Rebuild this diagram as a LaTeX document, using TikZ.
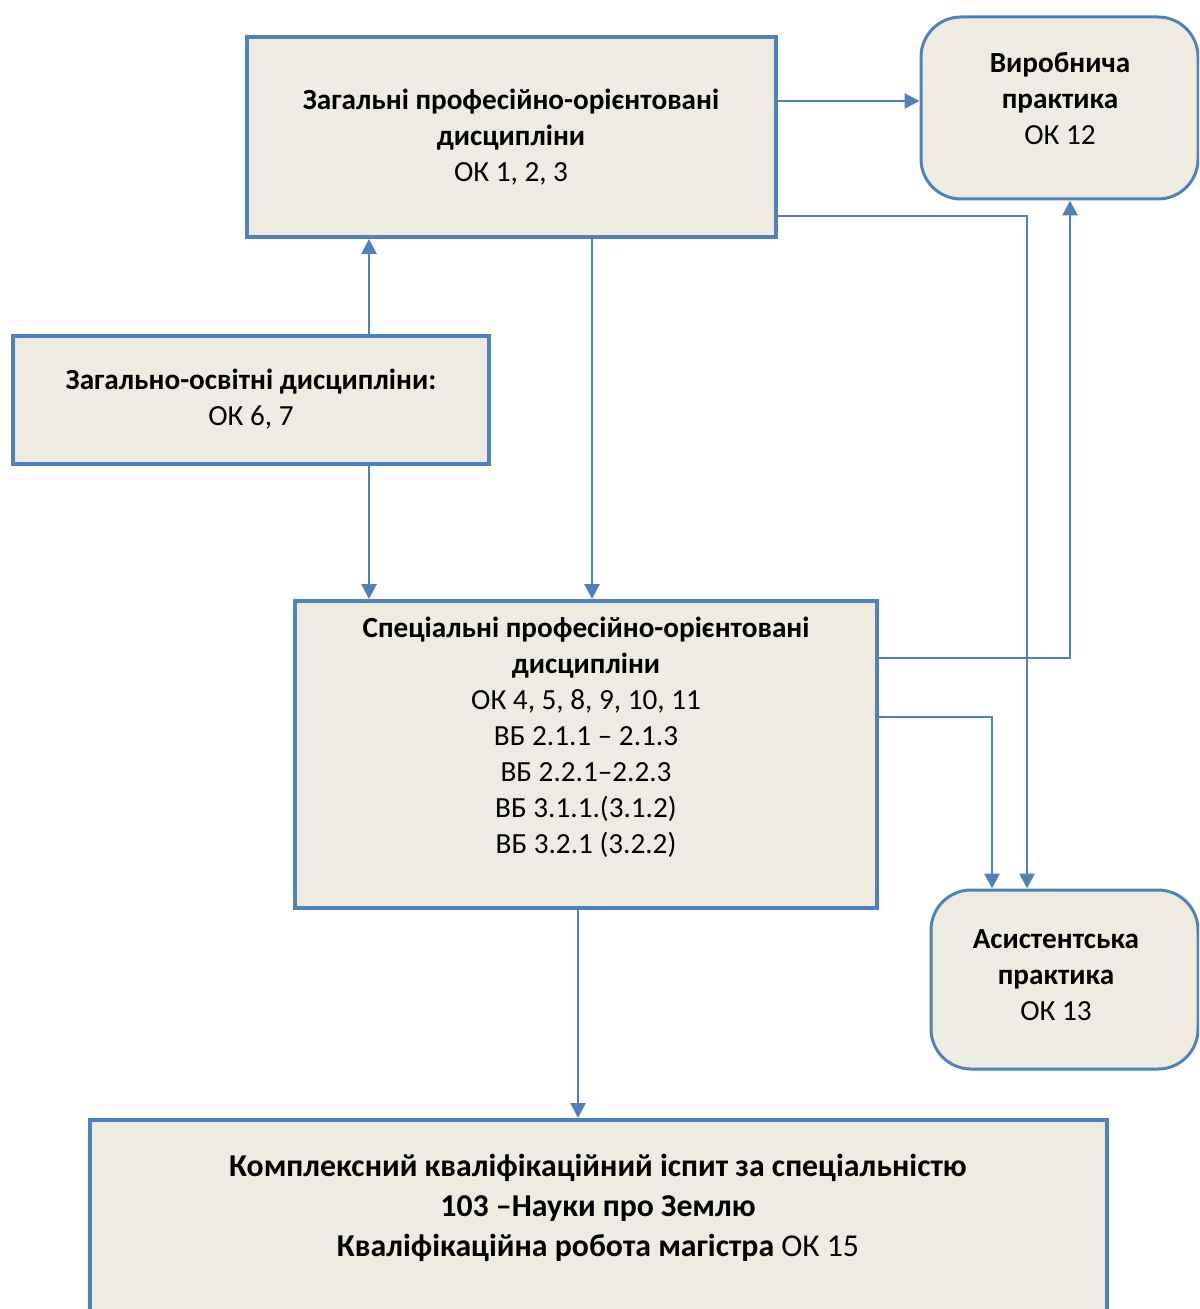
\documentclass[tikz,border=0pt]{standalone}
\usepackage{fontspec}
\setmainfont{Carlito}
\usetikzlibrary{arrows.meta}
\definecolor{bl}{HTML}{4F81BD}
\definecolor{bg}{HTML}{EEECE1}
\begin{document}
\begin{tikzpicture}[x=0.5pt,y=-0.5pt,
  sqbox/.style={draw=bl,fill=bg,line width=2pt,inner sep=0pt,rectangle},
  rbox/.style={draw=bl,fill=bg,line width=1.5pt,inner sep=0pt,rectangle,rounded corners=20pt},
  txt/.style={inner sep=0pt,align=center,font=\fontsize{14.6}{18}\selectfont},
  conn/.style={draw=bl,line width=1.4pt,-{Triangle[length=7.5pt,width=7.5pt]}}]
\useasboundingbox (0,0) rectangle (1199,1309);
\clip (0,0) rectangle (1199,1309);
% boxes
\node[sqbox,minimum width=264.5pt,minimum height=100pt] (top) at (511.5,137) {};
\node[rbox,minimum width=138.5pt,minimum height=91pt] (vip) at (1059.5,108) {};
\node[sqbox,minimum width=238pt,minimum height=64pt] (zo) at (251,400) {};
\node[sqbox,minimum width=291pt,minimum height=153.5pt] (spec) at (586,754.5) {};
\node[rbox,minimum width=133.5pt,minimum height=89.5pt] (asist) at (1064.5,979.5) {};
\node[sqbox,minimum width=508.5pt,minimum height=105pt] (bot) at (598.5,1225) {};
% texts
\node[txt] (ttop) at (511,137) {\textbf{Загальні професійно-орієнтовані}\\\textbf{дисципліни}\\ОК 1, 2, 3};
\node[txt] (tvip) at (1060,99) {\textbf{Виробнича}\\\textbf{практика}\\ОК 12};
\node[txt] (tzo) at (251,399) {\textbf{Загально-освітні дисципліни:}\\ОК 6, 7};
\node[txt] (tspec) at (586,737) {\textbf{Спеціальні професійно-орієнтовані}\\\textbf{дисципліни}\\ОК 4, 5, 8, 9, 10, 11\\ВБ 2.1.1 – 2.1.3\\ВБ 2.2.1–2.2.3\\ВБ 3.1.1.(3.1.2)\\ВБ 3.2.1 (3.2.2)};
\node[txt] (tasist) at (1056,975) {\textbf{Асистентська}\\\textbf{практика}\\ОК 13};
\node[txt,font=\fontsize{15.9}{20}\selectfont] (tbot) at (598,1208) {\textbf{Комплексний кваліфікаційний іспит за спеціальністю}\\\textbf{103 –Науки про Землю}\\\textbf{Кваліфікаційна робота магістра} ОК 15};
% connectors
\draw[conn] (top.east |- 0,101) -- (vip.west |- 0,101);
\draw[conn] (top.east |- 0,216) -| (asist.north -| 1027,0);
\draw[conn] (zo.north -| 369,0) -- (top.south -| 369,0);
\draw[conn] (zo.south -| 369,0) -- (spec.north -| 369,0);
\draw[conn] (top.south -| 592,0) -- (spec.north -| 592,0);
\draw[conn] (spec.east |- 0,658) -| (vip.south -| 1070,0);
\draw[conn] (spec.east |- 0,717) -| (asist.north -| 992,0);
\draw[conn] (spec.south -| 578,0) -- (bot.north -| 578,0);
\end{tikzpicture}
\end{document}
